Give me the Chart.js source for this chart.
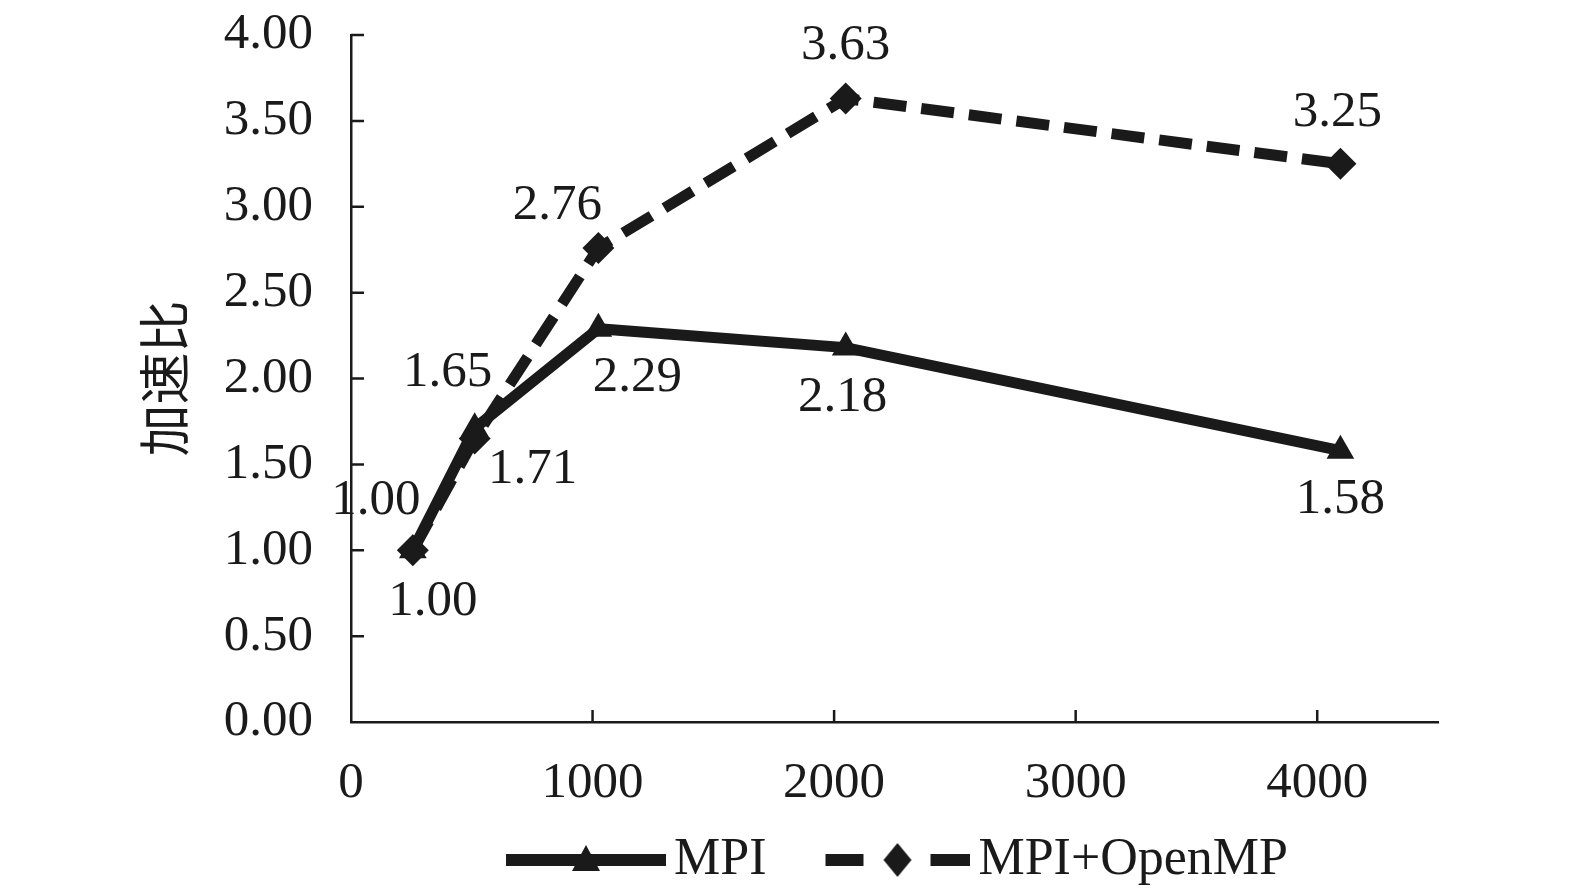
<!DOCTYPE html>
<html>
<head>
<meta charset="utf-8">
<script src="https://cdn.jsdelivr.net/npm/chart.js@4.4.1/dist/chart.umd.min.js"></script>
<style>
  html, body { margin: 0; padding: 0; background: #fff; }
  #wrap { width: 1575px; height: 896px; }
</style>
</head>
<body>
<div id="wrap"><canvas id="speedupChart" width="1575" height="896"></canvas></div>
<script>
// 进程数 (x) 与加速比
const processCounts = [256, 512, 1024, 2048, 4096];
const mpiSpeedup = [1.00, 1.71, 2.29, 2.18, 1.58];
const hybridSpeedup = [1.00, 1.65, 2.76, 3.63, 3.25];
const seriesNames = ['MPI', 'MPI+OpenMP'];
const yTitle = '加速比';
const xTicks = [0, 1000, 2000, 3000, 4000];
const yTicks = [0, 0.5, 1, 1.5, 2, 2.5, 3, 3.5, 4];

// label offsets relative to each point (style only)
const mpiLabelOffsets = [[20, 51], [58, 41], [39, 49], [-3, 50], [0, 49]];
const hybridLabelOffsets = [[-37, -50], [-27, -66], [-41, -42], [0, -53], [-3, -51]];

const INK = '#1a1a1a';
const FONT = "'Liberation Serif', 'Times New Roman', serif";
const LEGEND_SHIFT = { x: 100, y: 0 };

const makeLegendSymbol = (dashed, marker) => {
    const c = document.createElement('canvas');
    c.width = 196;
    c.height = 36;
    const g = c.getContext('2d');
    g.fillStyle = INK;
    const mid = c.height / 2;
    let cx;
    if (dashed) {
        g.fillRect(51, mid - 6, 38, 12);
        g.fillRect(156, mid - 6, 40, 12);
        cx = 123;
    } else {
        g.fillRect(36, mid - 6, 160, 12);
        cx = 116;
    }
    g.beginPath();
    if (marker === 'triangle') {
        g.moveTo(cx, mid - 15);
        g.lineTo(cx + 14, mid + 11);
        g.lineTo(cx - 14, mid + 11);
    } else {
        g.moveTo(cx, mid - 17);
        g.lineTo(cx + 14, mid);
        g.lineTo(cx, mid + 17);
        g.lineTo(cx - 14, mid);
    }
    g.closePath();
    g.fill();
    return c;
};

const legendSymbols = [makeLegendSymbol(false, 'triangle'), makeLegendSymbol(true, 'diamond')];
const labelOffsets = [mpiLabelOffsets, hybridLabelOffsets];

const pointLabels = {
    id: 'pointLabels',
    afterDatasetsDraw(chart) {
        const { ctx } = chart;
        ctx.save();
        ctx.font = `51px ${FONT}`;
        ctx.fillStyle = INK;
        ctx.textAlign = 'center';
        ctx.textBaseline = 'middle';
        chart.data.datasets.forEach((ds, di) => {
            const meta = chart.getDatasetMeta(di);
            meta.data.forEach((pt, i) => {
                const [dx, dy] = labelOffsets[di][i];
                ctx.fillText(Number(ds.data[i].y).toFixed(2), pt.x + dx, pt.y + dy);
            });
        });
        ctx.restore();
    }
};

// ticks drawn inward from the axis lines
const innerTicks = {
    id: 'innerTicks',
    afterDatasetsDraw(chart) {
        const { ctx, scales: { x, y }, chartArea } = chart;
        ctx.save();
        ctx.strokeStyle = INK;
        ctx.lineWidth = 2.5;
        ctx.beginPath();
        xTicks.forEach((v) => {
            if (v === 0) return;
            const px = x.getPixelForValue(v);
            ctx.moveTo(px, chartArea.bottom);
            ctx.lineTo(px, chartArea.bottom - 12);
        });
        yTicks.forEach((v) => {
            if (v === 0) return;
            const py = y.getPixelForValue(v);
            ctx.moveTo(chartArea.left, py);
            ctx.lineTo(chartArea.left + 13, py);
        });
        ctx.stroke();
        ctx.restore();
    }
};

const legendPlace = {
    id: 'legendPlace',
    afterLayout(chart) {
        const lg = chart.legend;
        if (!lg) return;
        lg.left += LEGEND_SHIFT.x;
        lg.right += LEGEND_SHIFT.x;
        lg.top += LEGEND_SHIFT.y;
        lg.bottom += LEGEND_SHIFT.y;
    }
};

const toPoints = (ys) => processCounts.map((x, i) => ({ x, y: ys[i] }));

new Chart(document.getElementById('speedupChart'), {
    type: 'line',
    data: {
        datasets: [
            {
                label: seriesNames[0],
                data: toPoints(mpiSpeedup),
                borderColor: INK,
                backgroundColor: INK,
                borderWidth: 11,
                pointStyle: 'triangle',
                pointRadius: 16,
                pointBorderWidth: 0,
                tension: 0
            },
            {
                label: seriesNames[1],
                data: toPoints(hybridSpeedup),
                borderColor: INK,
                backgroundColor: INK,
                borderWidth: 11,
                borderDash: [33, 15],
                pointStyle: 'rectRot',
                pointRadius: 16,
                pointBorderWidth: 0,
                tension: 0
            }
        ]
    },
    options: {
        responsive: false,
        animation: false,
        devicePixelRatio: 1,
        layout: { padding: { top: 35, right: 137, bottom: 0, left: 138 } },
        scales: {
            x: {
                type: 'linear',
                min: 0,
                max: 4500,
                afterBuildTicks: (scale) => { scale.ticks = xTicks.map((value) => ({ value })); },
                afterFit: (scale) => {
                    scale.height = 86;
                    scale.paddingLeft = 0;
                    scale.paddingRight = 0;
                },
                grid: { display: false, drawTicks: false },
                border: { display: true, color: INK, width: 2.5 },
                ticks: {
                    color: INK,
                    padding: 31,
                    maxRotation: 0,
                    callback: (v) => String(v),
                    font: { family: FONT, size: 51 }
                }
            },
            y: {
                min: 0,
                max: 4,
                afterBuildTicks: (scale) => { scale.ticks = yTicks.map((value) => ({ value })); },
                afterFit: (scale) => {
                    scale.width = 213;
                    scale.paddingTop = 0;
                    scale.paddingBottom = 0;
                },
                grid: { display: false, drawTicks: false },
                border: { display: true, color: INK, width: 2.5 },
                title: {
                    display: true,
                    text: yTitle,
                    color: INK,
                    padding: 0,
                    font: { family: "'Noto Sans CJK SC', sans-serif", size: 52, lineHeight: 1 }
                },
                ticks: {
                    color: INK,
                    padding: 38,
                    callback: (v) => Number(v).toFixed(2),
                    font: { family: FONT, size: 51 }
                }
            }
        },
        plugins: {
            tooltip: { enabled: false },
            legend: {
                position: 'bottom',
                labels: {
                    color: INK,
                    usePointStyle: true,
                    pointStyleWidth: 160,
                    padding: 26,
                    font: { family: FONT, size: 52 },
                    generateLabels: (chart) => chart.data.datasets.map((ds, i) => ({
                        text: ds.label,
                        pointStyle: legendSymbols[i],
                        fillStyle: INK,
                        strokeStyle: INK,
                        lineWidth: 0,
                        fontColor: INK,
                        hidden: false,
                        datasetIndex: i
                    }))
                }
            }
        }
    },
    plugins: [pointLabels, innerTicks, legendPlace]
});
</script>
</body>
</html>
